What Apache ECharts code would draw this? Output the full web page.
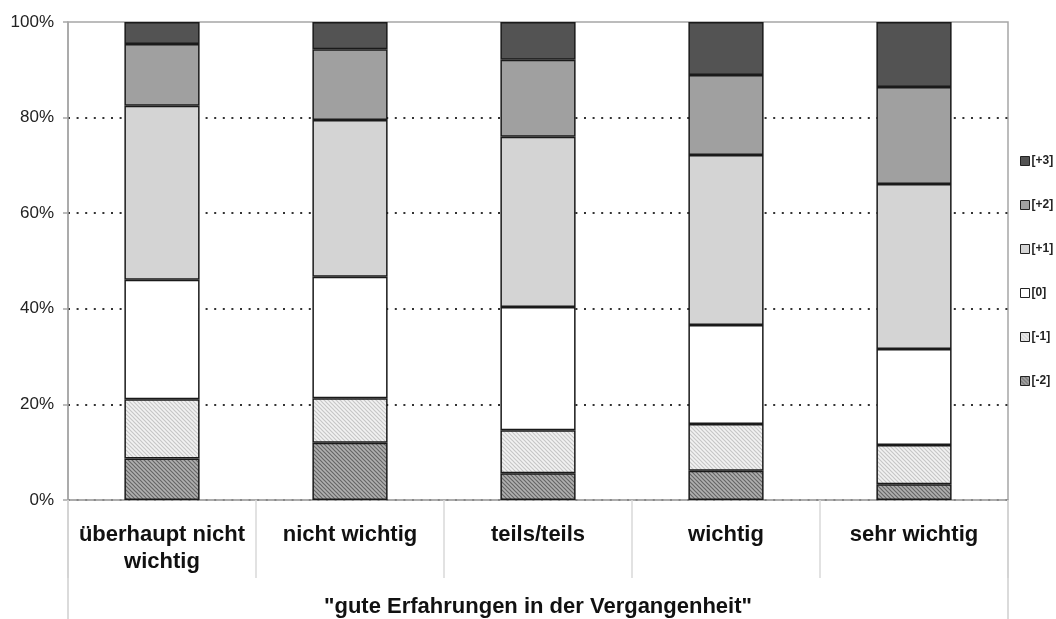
<!DOCTYPE html>
<html>
<head>
<meta charset="utf-8">
<script src="https://cdn.jsdelivr.net/npm/echarts@6/dist/echarts.min.js"></script>
<style>
  html, body { margin: 0; padding: 0; background: #fff; }
  #chart { width: 1056px; height: 619px; }
</style>
</head>
<body>
<div id="chart"></div>
<script>
// Rating categories along the x axis
const categories = ['überhaupt nicht\nwichtig', 'nicht wichtig', 'teils/teils', 'wichtig', 'sehr wichtig'];
const groupLabel = '"gute Erfahrungen in der Vergangenheit"';

// Share of answers per scale value (percent, stacked to 100)
const valsMinus2 = [8.7, 12.0, 5.6, 6.1, 3.3];
const valsMinus1 = [12.4, 9.3, 9.0, 9.8, 8.2];
const valsZero   = [25.0, 25.4, 25.8, 20.7, 20.1];
const valsPlus1  = [36.4, 32.8, 35.6, 35.6, 34.5];
const valsPlus2  = [12.9, 14.8, 16.1, 16.7, 20.3];
const valsPlus3  = [4.6, 5.7, 7.9, 11.1, 13.6];

const seriesNames = ['[-2]', '[-1]', '[0]', '[+1]', '[+2]', '[+3]'];
const legendOrder = ['[+3]', '[+2]', '[+1]', '[0]', '[-1]', '[-2]'];

// Diagonal hatch tile used as a fill pattern
function hatch(base, line) {
  const c = document.createElement('canvas');
  c.width = 4; c.height = 4;
  const g = c.getContext('2d');
  g.fillStyle = base;
  g.fillRect(0, 0, 4, 4);
  g.strokeStyle = line;
  g.lineWidth = 1.2;
  g.beginPath();
  g.moveTo(-1, -1); g.lineTo(5, 5);
  g.moveTo(-1, 3); g.lineTo(1, 5);
  g.moveTo(3, -1); g.lineTo(5, 1);
  g.stroke();
  return { image: c, repeat: 'repeat' };
}

const fills = [
  hatch('#b0b0b0', '#666666'),
  hatch('#f2f2f2', '#c6c6c6'),
  '#ffffff',
  '#d4d4d4',
  '#a0a0a0',
  '#535353'
];
const dataSets = [valsMinus2, valsMinus1, valsZero, valsPlus1, valsPlus2, valsPlus3];

const font = '"Liberation Sans", Arial, sans-serif';
const dotted = '#333333';

const chart = echarts.init(document.getElementById('chart'), null, { renderer: 'canvas' });

chart.setOption({
  animation: false,
  backgroundColor: '#ffffff',
  grid: {
    left: 68, right: 48, top: 22, bottom: 119,
    show: true, borderColor: '#a6a6a6', borderWidth: 1.5, backgroundColor: 'transparent'
  },
  legend: {
    orient: 'vertical',
    left: 1015,
    top: 149,
    itemWidth: 9,
    itemHeight: 9,
    itemGap: 30,
    icon: 'rect',
    data: legendOrder,
    itemStyle: { borderColor: '#222', borderWidth: 1 },
    textStyle: { fontFamily: font, fontSize: 12, fontWeight: 'bold', color: '#222', lineHeight: 14, padding: [0, 0, 0, -3] }
  },
  xAxis: [
    {
      type: 'category',
      data: categories,
      position: 'bottom',
      axisLine: { show: true, lineStyle: { color: '#a6a6a6', width: 1.5 } },
      axisTick: { show: true, interval: 0, length: 78, lineStyle: { color: '#d9d9d9', width: 1.5 } },
      axisLabel: {
        interval: 0, margin: 21,
        fontFamily: font, fontSize: 22, fontWeight: 'bold', color: '#111', lineHeight: 27
      }
    },
    {
      type: 'category',
      data: [groupLabel],
      position: 'bottom',
      axisLine: { show: false },
      axisTick: { show: true, length: 119, lineStyle: { color: '#d0d0d0', width: 1.5 } },
      axisLabel: {
        margin: 94,
        fontFamily: font, fontSize: 22, fontWeight: 'bold', color: '#111', lineHeight: 25
      }
    }
  ],
  yAxis: {
    type: 'value',
    min: 0, max: 100, interval: 20,
    axisLine: { show: true, lineStyle: { color: '#a6a6a6', width: 1.5 } },
    axisTick: { show: true, length: 5, lineStyle: { color: '#a6a6a6', width: 1.5 } },
    axisLabel: { formatter: '{value}%', margin: 14, fontFamily: font, fontSize: 17, color: '#222' },
    splitLine: {
      show: true,
      // the top line is left to the solid plot border
      lineStyle: { color: [dotted, dotted, dotted, dotted, dotted, 'rgba(0,0,0,0)'], width: 2, type: [2, 6.6] }
    }
  },
  series: seriesNames.map((name, i) => ({
    name: name,
    type: 'bar',
    stack: 'share',
    xAxisIndex: 0,
    barWidth: '40%',
    data: dataSets[i],
    itemStyle: { color: fills[i], borderColor: '#1a1a1a', borderWidth: 1.5 },
    emphasis: { disabled: true }
  }))
});
</script>
</body>
</html>
